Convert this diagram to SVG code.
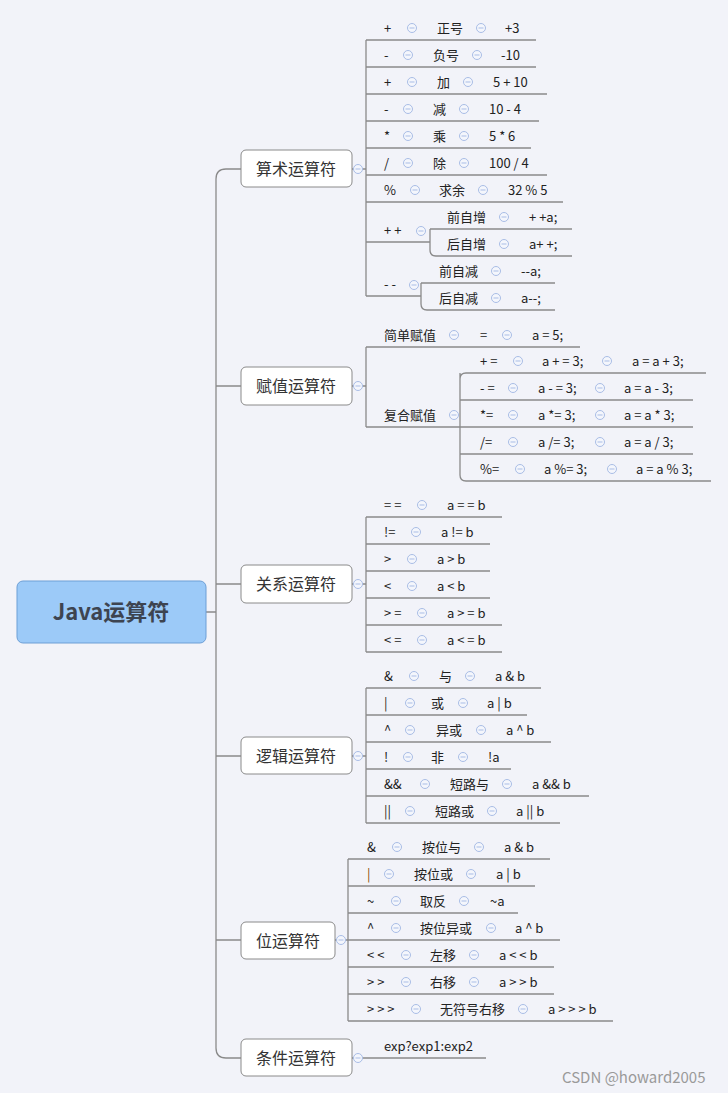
<svg xmlns="http://www.w3.org/2000/svg" xmlns:xlink="http://www.w3.org/1999/xlink" width="728" height="1093" viewBox="0 0 728 1093">
<style>
text{font-family:"Noto Sans CJK SC","Liberation Sans",sans-serif;font-size:13px;fill:#222}
.n{font-size:16px;fill:#333}
.ln{fill:none;stroke:#8a8a8a;stroke-width:1.3}
.box{fill:#fff;stroke:#8a8a8a;stroke-width:1}
</style>
<defs>
<g id="c"><circle r="4.5" fill="#f4f6fc" stroke="#a9bde6" stroke-width="1"/><line x1="-2.5" x2="2.5" stroke="#a9bde6" stroke-width="1"/></g>
</defs>
<rect width="728" height="1093" fill="#f2f3f9"/>
<g id="connectors" class="ln">
<path d="M206 612H216M241 169H226Q216 169 216 179V1048Q216 1058 226 1058H241M216 386H241M216 584H241M216 756H241M216 940H241"/>
<path d="M352 169H366M366 40V296M366 40H536M366 67H536M366 94H547M366 121H539M366 148H531M366 175H547M366 202H563M366 242H430M430 229V250Q430 256 436 256H572M430 229H572M366 296H421M421 283V304Q421 310 427 310H555M421 283H555"/>
<path d="M352 386H366M366 347V427M366 347H580M366 427H460M460 379Q460 373 466 373H706M460 373V475Q460 481 466 481H711M460 400H693M460 427H693M460 454H693"/>
<path d="M352 584H366M366 517V652M366 517H502M366 544H490M366 571H490M366 598H490M366 625H502M366 652H502"/>
<path d="M352 756H366M366 688V823M366 688H541M366 715H527M366 742H551M366 769H511M366 796H589M366 823H560"/>
<path d="M335 940H348M348 859V1021M348 859H550M348 886H535M348 913H518M348 940H560M348 967H554M348 994H554M348 1021H613"/>
<path d="M352 1058H486"/>
</g>
<g id="root"><rect x="17" y="581" width="189" height="62" rx="6" fill="#9ccaf8" stroke="#6d9fd6"/><text x="111" y="620" text-anchor="middle" style="font-size:22px;font-weight:bold;fill:#3d4450">Java运算符</text></g>
<g id="n1"><rect class="box" x="241" y="150" width="111" height="37" rx="5"/><text class="n" x="296" y="175" text-anchor="middle">算术运算符</text><use href="#c" x="358" y="169"/></g>
<g id="n2"><rect class="box" x="241" y="367" width="111" height="38" rx="5"/><text class="n" x="296" y="392" text-anchor="middle">赋值运算符</text><use href="#c" x="358" y="386"/></g>
<g id="n3"><rect class="box" x="241" y="565" width="111" height="38" rx="5"/><text class="n" x="296" y="590" text-anchor="middle">关系运算符</text><use href="#c" x="358" y="584"/></g>
<g id="n4"><rect class="box" x="241" y="737" width="111" height="37" rx="5"/><text class="n" x="296" y="762" text-anchor="middle">逻辑运算符</text><use href="#c" x="358" y="756"/></g>
<g id="n5"><rect class="box" x="241" y="922" width="94" height="37" rx="5"/><text class="n" x="288" y="947" text-anchor="middle">位运算符</text><use href="#c" x="341" y="940"/></g>
<g id="n6"><rect class="box" x="241" y="1039" width="111" height="37" rx="5"/><text class="n" x="296" y="1064" text-anchor="middle">条件运算符</text><use href="#c" x="358" y="1058"/></g>
<g id="leaves1">
<text x="384" y="33">+</text><use href="#c" x="412" y="28"/><text x="437" y="33">正号</text><use href="#c" x="481" y="28"/><text x="505" y="33">+3</text>
<text x="384" y="60">-</text><use href="#c" x="408" y="55"/><text x="433" y="60">负号</text><use href="#c" x="477" y="55"/><text x="501" y="60">-10</text>
<text x="384" y="87">+</text><use href="#c" x="412" y="82"/><text x="437" y="87">加</text><use href="#c" x="468" y="82"/><text x="493" y="87">5 + 10</text>
<text x="384" y="114">-</text><use href="#c" x="408" y="109"/><text x="433" y="114">减</text><use href="#c" x="464" y="109"/><text x="489" y="114">10 - 4</text>
<text x="384" y="141">*</text><use href="#c" x="408" y="136"/><text x="433" y="141">乘</text><use href="#c" x="464" y="136"/><text x="489" y="141">5 * 6</text>
<text x="384" y="168">/</text><use href="#c" x="408" y="163"/><text x="433" y="168">除</text><use href="#c" x="464" y="163"/><text x="489" y="168">100 / 4</text>
<text x="384" y="195">%</text><use href="#c" x="415" y="190"/><text x="439" y="195">求余</text><use href="#c" x="483" y="190"/><text x="508" y="195">32 % 5</text>
<text x="384" y="235">+ +</text><use href="#c" x="421" y="231"/>
<text x="447" y="222">前自增</text><use href="#c" x="504" y="217"/><text x="529" y="222">+ +a;</text>
<text x="447" y="249">后自增</text><use href="#c" x="504" y="244"/><text x="529" y="249">a+ +;</text>
<text x="384" y="289">- -</text><use href="#c" x="414" y="285"/>
<text x="439" y="276">前自减</text><use href="#c" x="496" y="271"/><text x="521" y="276">--a;</text>
<text x="439" y="303">后自减</text><use href="#c" x="496" y="298"/><text x="521" y="303">a--;</text>
</g>
<g id="leaves2">
<text x="384" y="340">简单赋值</text><use href="#c" x="454" y="335"/><text x="480" y="340">=</text><use href="#c" x="507" y="335"/><text x="532" y="340">a = 5;</text>
<text x="384" y="420">复合赋值</text><use href="#c" x="454" y="415"/>
<text x="480" y="366">+ =</text><use href="#c" x="518" y="361"/><text x="542" y="366">a + = 3;</text><use href="#c" x="607" y="361"/><text x="632" y="366">a = a + 3;</text>
<text x="480" y="393">- =</text><use href="#c" x="513" y="388"/><text x="538" y="393">a - = 3;</text><use href="#c" x="600" y="388"/><text x="624" y="393">a = a - 3;</text>
<text x="480" y="420">*=</text><use href="#c" x="513" y="415"/><text x="538" y="420">a *= 3;</text><use href="#c" x="600" y="415"/><text x="624" y="420">a = a * 3;</text>
<text x="480" y="447">/=</text><use href="#c" x="513" y="442"/><text x="538" y="447">a /= 3;</text><use href="#c" x="600" y="442"/><text x="624" y="447">a = a / 3;</text>
<text x="480" y="474">%=</text><use href="#c" x="520" y="469"/><text x="544" y="474">a %= 3;</text><use href="#c" x="612" y="469"/><text x="636" y="474">a = a % 3;</text>
</g>
<g id="leaves3">
<text x="384" y="510">= =</text><use href="#c" x="422" y="505"/><text x="447" y="510">a = = b</text>
<text x="384" y="537">!=</text><use href="#c" x="416" y="532"/><text x="441" y="537">a != b</text>
<text x="384" y="564">&gt;</text><use href="#c" x="412" y="559"/><text x="437" y="564">a &gt; b</text>
<text x="384" y="591">&lt;</text><use href="#c" x="412" y="586"/><text x="437" y="591">a &lt; b</text>
<text x="384" y="618">&gt; =</text><use href="#c" x="422" y="613"/><text x="447" y="618">a &gt; = b</text>
<text x="384" y="645">&lt; =</text><use href="#c" x="422" y="640"/><text x="447" y="645">a &lt; = b</text>
</g>
<g id="leaves4">
<text x="384" y="681">&amp;</text><use href="#c" x="414" y="676"/><text x="439" y="681">与</text><use href="#c" x="470" y="676"/><text x="495" y="681">a &amp; b</text>
<text x="384" y="708">|</text><use href="#c" x="410" y="703"/><text x="431" y="708">或</text><use href="#c" x="463" y="703"/><text x="487" y="708">a | b</text>
<text x="384" y="735">^</text><use href="#c" x="410" y="730"/><text x="436" y="735">异或</text><use href="#c" x="481" y="730"/><text x="506" y="735">a ^ b</text>
<text x="384" y="762">!</text><use href="#c" x="408" y="757"/><text x="431" y="762">非</text><use href="#c" x="463" y="757"/><text x="488" y="762">!a</text>
<text x="384" y="789">&amp;&amp;</text><use href="#c" x="425" y="784"/><text x="450" y="789">短路与</text><use href="#c" x="507" y="784"/><text x="532" y="789">a &amp;&amp; b</text>
<text x="384" y="816">||</text><use href="#c" x="410" y="811"/><text x="435" y="816">短路或</text><use href="#c" x="492" y="811"/><text x="516" y="816">a || b</text>
</g>
<g id="leaves5">
<text x="367" y="852">&amp;</text><use href="#c" x="397" y="847"/><text x="422" y="852">按位与</text><use href="#c" x="479" y="847"/><text x="504" y="852">a &amp; b</text>
<text x="367" y="879" style="fill:#8a4a00">|</text><use href="#c" x="389" y="874"/><text x="414" y="879">按位或</text><use href="#c" x="471" y="874"/><text x="496" y="879">a | b</text>
<text x="367" y="906">~</text><use href="#c" x="396" y="901"/><text x="420" y="906">取反</text><use href="#c" x="464" y="901"/><text x="490" y="906">~a</text>
<text x="367" y="933">^</text><use href="#c" x="396" y="928"/><text x="420" y="933">按位异或</text><use href="#c" x="491" y="928"/><text x="515" y="933">a ^ b</text>
<text x="367" y="960">&lt; &lt;</text><use href="#c" x="406" y="955"/><text x="430" y="960">左移</text><use href="#c" x="474" y="955"/><text x="499" y="960">a &lt; &lt; b</text>
<text x="367" y="987">&gt; &gt;</text><use href="#c" x="406" y="982"/><text x="430" y="987">右移</text><use href="#c" x="474" y="982"/><text x="499" y="987">a &gt; &gt; b</text>
<text x="367" y="1014">&gt; &gt; &gt;</text><use href="#c" x="416" y="1009"/><text x="440" y="1014">无符号右移</text><use href="#c" x="523" y="1009"/><text x="548" y="1014">a &gt; &gt; &gt; b</text>
</g>
<g id="leaves6"><text x="384" y="1051">exp?exp1:exp2</text></g>
<text x="562" y="1083" style="font-size:15px;fill:#9a9a9a">CSDN @howard2005</text>
</svg>
